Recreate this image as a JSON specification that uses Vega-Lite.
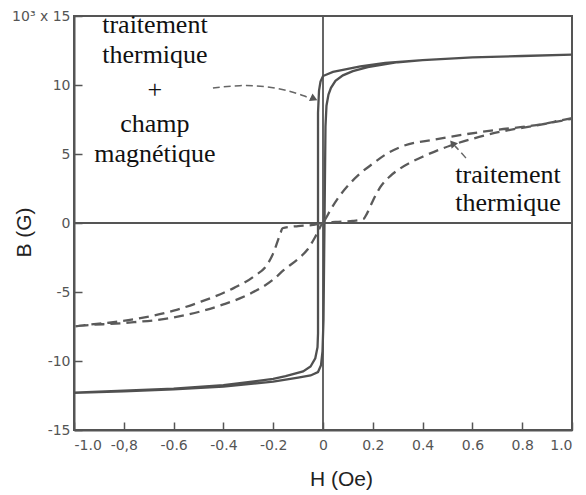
{
  "$schema": "https://vega.github.io/schema/vega-lite/v6.json",
  "autosize": {"type": "none"},
  "padding": {"left": 74, "top": 16, "right": 14, "bottom": 65},
  "width": 498,
  "height": 414,
  "background": "white",
  "config": {
    "view": {"stroke": "#555", "strokeWidth": 2},
    "axis": {"grid": false, "domainColor": "#555", "domainWidth": 2, "tickColor": "#555", "tickWidth": 1.5, "labelColor": "#555", "labelFont": "DejaVu Sans", "labelFontSize": 14, "titleFont": "Liberation Sans", "titleFontSize": 21, "titleFontWeight": "normal", "titleColor": "#222"}
  },
  "datasets": {
    "loops": [
      {"s": "solid", "i": 1, "h": 1.0, "b": 12.2},
      {"s": "solid", "i": 2, "h": 0.8, "b": 12.1},
      {"s": "solid", "i": 3, "h": 0.6, "b": 12.0},
      {"s": "solid", "i": 4, "h": 0.4, "b": 11.8},
      {"s": "solid", "i": 5, "h": 0.25, "b": 11.6},
      {"s": "solid", "i": 6, "h": 0.15, "b": 11.35},
      {"s": "solid", "i": 7, "h": 0.08, "b": 11.1},
      {"s": "solid", "i": 8, "h": 0.04, "b": 10.95},
      {"s": "solid", "i": 9, "h": 0.0, "b": 10.65},
      {"s": "solid", "i": 10, "h": -0.01, "b": 10.25},
      {"s": "solid", "i": 11, "h": -0.016, "b": 9.6},
      {"s": "solid", "i": 12, "h": -0.02, "b": 8.0},
      {"s": "solid", "i": 13, "h": -0.02, "b": -8.0},
      {"s": "solid", "i": 14, "h": -0.022, "b": -9.0},
      {"s": "solid", "i": 15, "h": -0.031, "b": -9.8},
      {"s": "solid", "i": 16, "h": -0.05, "b": -10.4},
      {"s": "solid", "i": 17, "h": -0.08, "b": -10.75},
      {"s": "solid", "i": 18, "h": -0.15, "b": -11.1},
      {"s": "solid", "i": 19, "h": -0.2, "b": -11.3},
      {"s": "solid", "i": 20, "h": -0.4, "b": -11.75},
      {"s": "solid", "i": 21, "h": -0.6, "b": -12.0},
      {"s": "solid", "i": 22, "h": -0.8, "b": -12.15},
      {"s": "solid", "i": 23, "h": -1.0, "b": -12.3},
      {"s": "solid", "i": 24, "h": -0.8, "b": -12.2},
      {"s": "solid", "i": 25, "h": -0.6, "b": -12.05},
      {"s": "solid", "i": 26, "h": -0.4, "b": -11.85},
      {"s": "solid", "i": 27, "h": -0.2, "b": -11.5},
      {"s": "solid", "i": 28, "h": -0.1, "b": -11.2},
      {"s": "solid", "i": 29, "h": -0.05, "b": -11.05},
      {"s": "solid", "i": 30, "h": -0.02, "b": -10.8},
      {"s": "solid", "i": 31, "h": -0.008, "b": -10.3},
      {"s": "solid", "i": 32, "h": -0.002, "b": -9.3},
      {"s": "solid", "i": 33, "h": 0.002, "b": -7.0},
      {"s": "solid", "i": 34, "h": 0.01, "b": 7.0},
      {"s": "solid", "i": 35, "h": 0.014, "b": 8.5},
      {"s": "solid", "i": 36, "h": 0.022, "b": 9.3},
      {"s": "solid", "i": 37, "h": 0.032, "b": 9.8},
      {"s": "solid", "i": 38, "h": 0.05, "b": 10.3},
      {"s": "solid", "i": 39, "h": 0.08, "b": 10.7},
      {"s": "solid", "i": 40, "h": 0.12, "b": 11.0},
      {"s": "solid", "i": 41, "h": 0.18, "b": 11.3},
      {"s": "solid", "i": 42, "h": 0.3, "b": 11.65},
      {"s": "solid", "i": 43, "h": 0.4, "b": 11.8},
      {"s": "solid", "i": 44, "h": 0.6, "b": 12.0},
      {"s": "solid", "i": 45, "h": 0.8, "b": 12.1},
      {"s": "solid", "i": 46, "h": 1.0, "b": 12.2},

      {"s": "dashed", "i": 1, "h": 1.0, "b": 7.6},
      {"s": "dashed", "i": 2, "h": 0.84, "b": 7.05},
      {"s": "dashed", "i": 3, "h": 0.7, "b": 6.75},
      {"s": "dashed", "i": 4, "h": 0.58, "b": 6.45},
      {"s": "dashed", "i": 5, "h": 0.45, "b": 6.05},
      {"s": "dashed", "i": 6, "h": 0.31, "b": 5.5},
      {"s": "dashed", "i": 7, "h": 0.25, "b": 4.95},
      {"s": "dashed", "i": 8, "h": 0.2, "b": 4.3},
      {"s": "dashed", "i": 9, "h": 0.15, "b": 3.6},
      {"s": "dashed", "i": 10, "h": 0.1, "b": 2.7},
      {"s": "dashed", "i": 11, "h": 0.06, "b": 1.8},
      {"s": "dashed", "i": 12, "h": 0.03, "b": 0.95},
      {"s": "dashed", "i": 13, "h": 0.01, "b": 0.3},
      {"s": "dashed", "i": 14, "h": 0.0, "b": 0.05},
      {"s": "dashed", "i": 15, "h": -0.04, "b": -0.14},
      {"s": "dashed", "i": 16, "h": -0.1, "b": -0.22},
      {"s": "dashed", "i": 17, "h": -0.163, "b": -0.38},
      {"s": "dashed", "i": 18, "h": -0.17, "b": -0.7},
      {"s": "dashed", "i": 19, "h": -0.18, "b": -1.2},
      {"s": "dashed", "i": 20, "h": -0.2, "b": -2.2},
      {"s": "dashed", "i": 21, "h": -0.22, "b": -2.9},
      {"s": "dashed", "i": 22, "h": -0.28, "b": -3.9},
      {"s": "dashed", "i": 23, "h": -0.357, "b": -4.7},
      {"s": "dashed", "i": 24, "h": -0.49, "b": -5.7},
      {"s": "dashed", "i": 25, "h": -0.6, "b": -6.35},
      {"s": "dashed", "i": 26, "h": -0.75, "b": -6.95},
      {"s": "dashed", "i": 27, "h": -1.0, "b": -7.5},
      {"s": "dashed", "i": 28, "h": -0.8, "b": -7.25},
      {"s": "dashed", "i": 29, "h": -0.6, "b": -6.85},
      {"s": "dashed", "i": 30, "h": -0.49, "b": -6.4},
      {"s": "dashed", "i": 31, "h": -0.4, "b": -5.9},
      {"s": "dashed", "i": 32, "h": -0.29, "b": -5.1},
      {"s": "dashed", "i": 33, "h": -0.2, "b": -4.1},
      {"s": "dashed", "i": 34, "h": -0.157, "b": -3.4},
      {"s": "dashed", "i": 35, "h": -0.1, "b": -2.6},
      {"s": "dashed", "i": 36, "h": -0.063, "b": -1.94},
      {"s": "dashed", "i": 37, "h": -0.023, "b": -0.74},
      {"s": "dashed", "i": 38, "h": 0.0, "b": 0.0},
      {"s": "dashed", "i": 39, "h": 0.05, "b": 0.08},
      {"s": "dashed", "i": 40, "h": 0.12, "b": 0.15},
      {"s": "dashed", "i": 41, "h": 0.163, "b": 0.3},
      {"s": "dashed", "i": 42, "h": 0.177, "b": 0.7},
      {"s": "dashed", "i": 43, "h": 0.2, "b": 1.6},
      {"s": "dashed", "i": 44, "h": 0.23, "b": 2.6},
      {"s": "dashed", "i": 45, "h": 0.27, "b": 3.4},
      {"s": "dashed", "i": 46, "h": 0.31, "b": 3.95},
      {"s": "dashed", "i": 47, "h": 0.4, "b": 4.8},
      {"s": "dashed", "i": 48, "h": 0.51, "b": 5.6},
      {"s": "dashed", "i": 49, "h": 0.6, "b": 6.1},
      {"s": "dashed", "i": 50, "h": 0.71, "b": 6.6},
      {"s": "dashed", "i": 51, "h": 0.85, "b": 7.05},
      {"s": "dashed", "i": 52, "h": 1.0, "b": 7.55}
    ],
    "arrows": [
      {"a": 1, "i": 1, "h": -0.442, "b": 9.78},
      {"a": 1, "i": 2, "h": -0.333, "b": 10.0},
      {"a": 1, "i": 3, "h": -0.233, "b": 9.93},
      {"a": 1, "i": 4, "h": -0.133, "b": 9.57},
      {"a": 1, "i": 5, "h": -0.072, "b": 9.2},
      {"a": 1, "i": 6, "h": -0.044, "b": 8.95},
      {"a": 2, "i": 1, "h": 0.574, "b": 4.71},
      {"a": 2, "i": 2, "h": 0.55, "b": 5.2},
      {"a": 2, "i": 3, "h": 0.53, "b": 5.58}
    ],
    "heads": [
      {"a": 1, "h": -0.036, "b": 9.0, "ang": 25, "shape": "triangle-right"},
      {"a": 2, "h": 0.52, "b": 5.78, "ang": 320, "shape": "triangle-up"}
    ],
    "labels": [
      {"t": "traitement", "h": -0.675, "b": 13.77},
      {"t": "thermique", "h": -0.675, "b": 11.59},
      {"t": "+", "h": -0.675, "b": 9.06},
      {"t": "champ", "h": -0.675, "b": 6.59},
      {"t": "magnétique", "h": -0.675, "b": 4.42},
      {"t": "traitement", "h": 0.743, "b": 2.9},
      {"t": "thermique", "h": 0.743, "b": 0.87}
    ]
  },
  "layer": [
    {
      "data": {"values": [{"h": 0}]},
      "mark": {"type": "rule", "color": "#555", "strokeWidth": 1.8},
      "encoding": {
        "x": {"field": "h", "type": "quantitative", "scale": {"domain": [-1, 1], "nice": false},
          "axis": {"title": "H (Oe)", "titleX": 267, "titleY": 49, "titleBaseline": "middle", "titleAlign": "center",
            "values": [-1, -0.8, -0.6, -0.4, -0.2, 0, 0.2, 0.4, 0.6, 0.8, 1],
            "tickSize": -8, "labelPadding": 16,
            "labelExpr": "datum.value === 0 ? '0' : abs(datum.value + 0.8) < 1e-6 ? '-0,8' : replace(format(datum.value, '.1f'), '−', '-')"}}
      }
    },
    {
      "data": {"values": [{"b": 0}]},
      "mark": {"type": "rule", "color": "#555", "strokeWidth": 1.8},
      "encoding": {
        "y": {"field": "b", "type": "quantitative", "scale": {"domain": [-15, 15], "nice": false},
          "axis": {"title": "B (G)", "titleX": -50, "titleY": 216, "titleAngle": -90, "titleBaseline": "middle", "titleAlign": "center",
            "values": [-15, -12.5, -10, -7.5, -5, -2.5, 0, 2.5, 5, 7.5, 10, 12.5, 15],
            "tickSize": -8, "labelPadding": 12,
            "labelExpr": "datum.value % 5 !== 0 ? '' : datum.value === 15 ? '10³ x 15' : replace(datum.label, '−', '-')"}}
      }
    },
    {
      "data": {"name": "loops"},
      "transform": [{"filter": "datum.s === 'solid'"}],
      "mark": {"type": "line", "color": "#505050", "strokeWidth": 2.3, "interpolate": "linear"},
      "encoding": {
        "x": {"field": "h", "type": "quantitative"},
        "y": {"field": "b", "type": "quantitative"},
        "order": {"field": "i", "type": "quantitative"}
      }
    },
    {
      "data": {"name": "loops"},
      "transform": [{"filter": "datum.s === 'dashed'"}],
      "mark": {"type": "line", "color": "#5a5a5a", "strokeWidth": 2.3, "strokeDash": [10, 6], "interpolate": "monotone"},
      "encoding": {
        "x": {"field": "h", "type": "quantitative"},
        "y": {"field": "b", "type": "quantitative"},
        "order": {"field": "i", "type": "quantitative"}
      }
    },
    {
      "data": {"name": "arrows"},
      "mark": {"type": "line", "color": "#666", "strokeWidth": 1.5, "strokeDash": [7, 4], "interpolate": "basis"},
      "encoding": {
        "x": {"field": "h", "type": "quantitative"},
        "y": {"field": "b", "type": "quantitative"},
        "detail": {"field": "a"},
        "order": {"field": "i", "type": "quantitative"}
      }
    },
    {
      "data": {"name": "heads"},
      "mark": {"type": "point", "filled": true, "color": "#555", "size": 70, "opacity": 1},
      "encoding": {
        "x": {"field": "h", "type": "quantitative"},
        "y": {"field": "b", "type": "quantitative"},
        "shape": {"field": "shape", "type": "nominal", "scale": null},
        "angle": {"field": "ang", "type": "quantitative", "scale": null}
      }
    },
    {
      "data": {"name": "labels"},
      "mark": {"type": "text", "font": "Liberation Serif", "fontSize": 26, "color": "#111", "align": "center", "baseline": "alphabetic"},
      "encoding": {
        "x": {"field": "h", "type": "quantitative"},
        "y": {"field": "b", "type": "quantitative"},
        "text": {"field": "t"}
      }
    }
  ]
}
